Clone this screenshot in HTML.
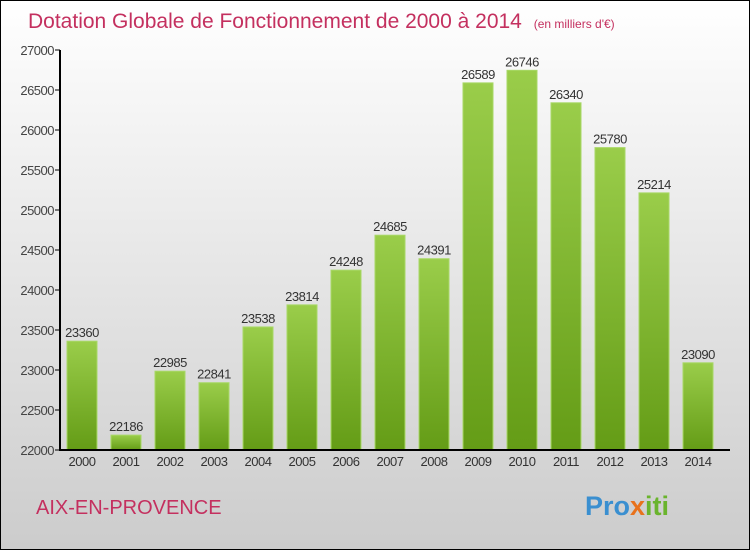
<!DOCTYPE html>
<html><head><meta charset="utf-8"><style>
html,body{margin:0;padding:0}
body{width:750px;height:550px;overflow:hidden;font-family:"Liberation Sans",sans-serif}
</style></head><body>
<svg width="750" height="550" xmlns="http://www.w3.org/2000/svg">
<defs>
<linearGradient id="bg" x1="0" y1="0" x2="0" y2="1"><stop offset="0" stop-color="#ffffff"/><stop offset="1" stop-color="#cccccc"/></linearGradient>
<linearGradient id="bar" x1="0" y1="0" x2="0" y2="1"><stop offset="0" stop-color="#9acd4a"/><stop offset="1" stop-color="#649c16"/></linearGradient>
</defs>
<rect x="0.5" y="0.5" width="749" height="549" fill="url(#bg)" stroke="#000"/>
<text x="28" y="28" font-size="21" fill="#c4305f">Dotation Globale de Fonctionnement de 2000 à 2014 <tspan font-size="12" dx="6">(en milliers d'€)</tspan></text>
<g id="yaxis"></g>
<g id="bars"></g>
<line x1="60" y1="50" x2="60" y2="451" stroke="#000" stroke-width="2"/>
<line x1="59" y1="450" x2="730" y2="450" stroke="#000" stroke-width="2"/>
<text x="36" y="514" font-size="20" fill="#c4305f">AIX-EN-PROVENCE</text>
<text x="585" y="515" font-size="27" font-weight="bold" fill="#3a8fd0">Pro<tspan fill="#e8721c">x</tspan><tspan fill="#6ab42d">iti</tspan></text>
</svg>
<script>
const years=["2000","2001","2002","2003","2004","2005","2006","2007","2008","2009","2010","2011","2012","2013","2014"];
const values=[23360,22186,22985,22841,23538,23814,24248,24685,24391,26589,26746,26340,25780,25214,23090];
const yTicks=[22000,22500,23000,23500,24000,24500,25000,25500,26000,26500,27000];
const NS="http://www.w3.org/2000/svg";
const yMin=22000,yMax=27000,plotTop=50,plotBot=450;
function y(v){return plotBot-(v-yMin)/(yMax-yMin)*(plotBot-plotTop);}
function xc(i){return 82+i*44;}
function mk(t,a,p){const e=document.createElementNS(NS,t);for(const k in a)e.setAttribute(k,a[k]);p.appendChild(e);return e;}
const ya=document.getElementById('yaxis'),bg=document.getElementById('bars');
yTicks.forEach(v=>{
 const l=mk('line',{x1:55,x2:60,y1:y(v),y2:y(v),stroke:'#000'},ya);
 
 
 const t=mk('text',{x:54,y:y(v)+5,'text-anchor':'end','font-size':13,fill:'#444','letter-spacing':'-0.5'},ya);
 t.textContent=v;
 
 
});
values.forEach((v,i)=>{
 const r=mk('rect',{x:xc(i)-15,y:y(v),width:30,height:plotBot-y(v),fill:'url(#bar)',stroke:'#a8d866','stroke-width':1},bg);
 
 
 const t=mk('text',{x:xc(i),y:y(v)-4,'text-anchor':'middle','font-size':13,fill:'#333','letter-spacing':'-0.5'},bg);
 t.textContent=v;
 
 
 const xl=mk('text',{x:xc(i),y:466,'text-anchor':'middle','font-size':13,fill:'#333','letter-spacing':'-0.5'},bg);
 xl.textContent=years[i];
 
 
});
</script>
</body></html>
